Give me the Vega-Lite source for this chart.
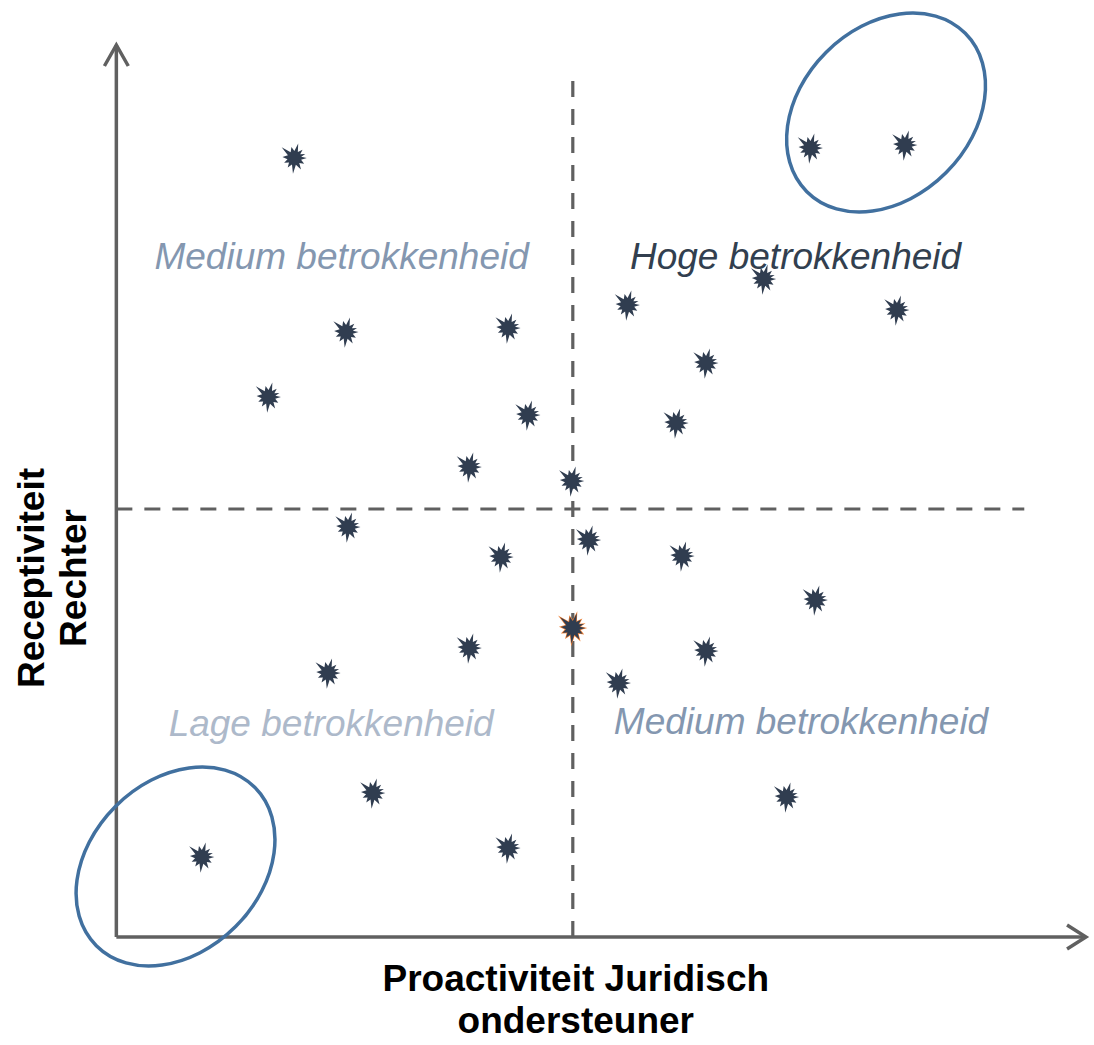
{
  "$schema": "https://vega.github.io/schema/vega-lite/v6.json",
  "width": 1094,
  "height": 1045,
  "autosize": {"type": "fit", "contains": "padding"},
  "padding": 0,
  "background": "white",
  "config": {"view": {"stroke": null}},
  "datasets": {
    "axes": [
      {"seg": "yaxis", "x": 0, "y": 0, "o": 1},
      {"seg": "yaxis", "x": 0, "y": 8.92, "o": 2},
      {"seg": "xaxis", "x": 0, "y": 0, "o": 1},
      {"seg": "xaxis", "x": 9.75, "y": 0, "o": 2},
      {"seg": "yarrow", "x": -0.12, "y": 8.71, "o": 1},
      {"seg": "yarrow", "x": 0, "y": 8.92, "o": 2},
      {"seg": "yarrow", "x": 0.12, "y": 8.71, "o": 3},
      {"seg": "xarrow", "x": 9.56, "y": 0.12, "o": 1},
      {"seg": "xarrow", "x": 9.75, "y": 0, "o": 2},
      {"seg": "xarrow", "x": 9.56, "y": -0.12, "o": 3}
    ],
    "dashes": [
      {"seg": "v", "x": 4.59, "y": 0, "o": 1},
      {"seg": "v", "x": 4.59, "y": 8.57, "o": 2},
      {"seg": "h", "x": 0, "y": 4.28, "o": 1},
      {"seg": "h", "x": 9.13, "y": 4.28, "o": 2}
    ],
    "ellipses": [
      {"name": "top", "x": 7.74, "y": 8.245},
      {"name": "bottom", "x": 0.595, "y": 0.705}
    ],
    "stars": [
      {"x": 1.79, "y": 7.79}, {"x": 6.98, "y": 7.89}, {"x": 7.93, "y": 7.92},
      {"x": 6.51, "y": 6.58}, {"x": 5.14, "y": 6.32}, {"x": 7.85, "y": 6.27},
      {"x": 2.31, "y": 6.05}, {"x": 3.94, "y": 6.09}, {"x": 5.93, "y": 5.74},
      {"x": 1.53, "y": 5.40}, {"x": 4.14, "y": 5.22}, {"x": 5.63, "y": 5.14},
      {"x": 3.55, "y": 4.70}, {"x": 4.58, "y": 4.56}, {"x": 2.33, "y": 4.10},
      {"x": 4.75, "y": 3.97}, {"x": 3.87, "y": 3.80}, {"x": 5.69, "y": 3.81},
      {"x": 7.03, "y": 3.37}, {"x": 4.59, "y": 3.09}, {"x": 3.55, "y": 2.89},
      {"x": 5.93, "y": 2.86}, {"x": 2.13, "y": 2.64}, {"x": 5.05, "y": 2.54},
      {"x": 2.58, "y": 1.44}, {"x": 6.74, "y": 1.40}, {"x": 0.86, "y": 0.80},
      {"x": 3.94, "y": 0.89}
    ],
    "highlight": [{"x": 4.59, "y": 3.09}],
    "labels": [
      {"label": "Medium betrokkenheid", "kind": "medium", "x": 2.265, "y": 6.79},
      {"label": "Hoge betrokkenheid", "kind": "hoog", "x": 6.83, "y": 6.79},
      {"label": "Lage betrokkenheid", "kind": "laag", "x": 2.16, "y": 2.12},
      {"label": "Medium betrokkenheid", "kind": "medium", "x": 6.885, "y": 2.14}
    ],
    "xtitle": [
      {"label": "Proactiviteit Juridisch", "x": 4.62, "y": -0.43},
      {"label": "ondersteuner", "x": 4.62, "y": -0.85}
    ],
    "ytitle": [
      {"label": "Receptiviteit", "x": -0.84, "y": 3.59},
      {"label": "Rechter", "x": -0.42, "y": 3.59}
    ]
  },
  "encoding": {
    "x": {"field": "x", "type": "quantitative", "scale": {"domain": [-1.17, 9.64], "nice": false, "zero": false}, "axis": null},
    "y": {"field": "y", "type": "quantitative", "scale": {"domain": [-1.08, 9.37], "nice": false, "zero": false}, "axis": null}
  },
  "layer": [
    {
      "data": {"name": "dashes"},
      "mark": {"type": "line", "color": "#606060", "strokeWidth": 3.2, "strokeDash": [16, 12], "strokeCap": "butt"},
      "encoding": {"detail": {"field": "seg"}, "order": {"field": "o"}}
    },
    {
      "data": {"name": "axes"},
      "mark": {"type": "line", "color": "#606060", "strokeWidth": 3.5, "strokeCap": "butt", "strokeJoin": "miter"},
      "encoding": {"detail": {"field": "seg"}, "order": {"field": "o"}}
    },
    {
      "data": {"name": "labels"},
      "mark": {"type": "text", "font": "Liberation Sans", "fontStyle": "italic", "fontSize": 37, "align": "center", "baseline": "middle"},
      "encoding": {
        "text": {"field": "label"},
        "color": {"field": "kind", "type": "nominal", "scale": {"domain": ["medium", "hoog", "laag"], "range": ["#8497b0", "#323f4f", "#adb9ca"]}, "legend": null}
      }
    },
    {
      "data": {"name": "xtitle"},
      "mark": {"type": "text", "font": "Liberation Sans", "fontWeight": "bold", "fontSize": 37, "align": "center", "baseline": "middle", "color": "#000000"},
      "encoding": {"text": {"field": "label"}}
    },
    {
      "data": {"name": "ytitle"},
      "mark": {"type": "text", "font": "Liberation Sans", "fontWeight": "bold", "fontSize": 37, "align": "center", "baseline": "middle", "angle": 270, "color": "#000000"},
      "encoding": {"text": {"field": "label"}}
    },
    {
      "data": {"name": "ellipses"},
      "mark": {"type": "point", "filled": false, "stroke": "#41709f", "strokeWidth": 3.5, "opacity": 1, "size": 40000,
        "shape": "M -0.792 0.792 A 1.12 0.85 -45 1 1 0.792 -0.792 A 1.12 0.85 -45 1 1 -0.792 0.792 Z"},
      "encoding": {}
    },
    {
      "data": {"name": "highlight"},
      "mark": {"type": "point", "filled": true, "fill": "#ed7d31", "opacity": 1, "size": 1500, "strokeWidth": 0,
        "shape": "M 0.75 0 L 0.406 0.109 L 0.589 0.34 L 0.297 0.297 L 0.4 0.693 L 0.091 0.41 L -0.083 0.946 L -0.144 0.395 L -0.401 0.573 L -0.322 0.27 L -0.616 0.287 L -0.413 0.073 L -0.717 -0.063 L -0.388 -0.161 L -0.766 -0.643 L -0.225 -0.354 L -0.176 -0.657 L 0 -0.42 L 0.233 -0.869 L 0.21 -0.364 L 0.495 -0.495 L 0.354 -0.225 L 0.658 -0.239 L 0.413 -0.073 Z"},
      "encoding": {}
    },
    {
      "data": {"name": "stars"},
      "mark": {"type": "point", "filled": true, "fill": "#303d50", "opacity": 1, "size": 1100, "strokeWidth": 0,
        "shape": "M 0.75 0 L 0.406 0.109 L 0.589 0.34 L 0.297 0.297 L 0.4 0.693 L 0.091 0.41 L -0.083 0.946 L -0.144 0.395 L -0.401 0.573 L -0.322 0.27 L -0.616 0.287 L -0.413 0.073 L -0.717 -0.063 L -0.388 -0.161 L -0.766 -0.643 L -0.225 -0.354 L -0.176 -0.657 L 0 -0.42 L 0.233 -0.869 L 0.21 -0.364 L 0.495 -0.495 L 0.354 -0.225 L 0.658 -0.239 L 0.413 -0.073 Z"},
      "encoding": {}
    }
  ]
}
